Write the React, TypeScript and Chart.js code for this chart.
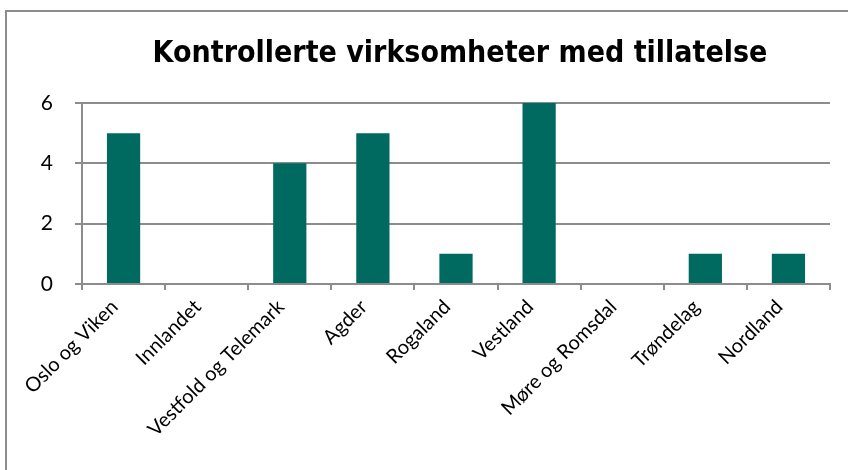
import React, { useEffect, useRef } from "react";
import { Chart, registerables } from "chart.js";

Chart.register(...registerables);

const TITLE = "Kontrollerte virksomheter med tillatelse";
const categories = [
  "Oslo og Viken",
  "Innlandet",
  "Vestfold og Telemark",
  "Agder",
  "Rogaland",
  "Vestland",
  "Møre og Romsdal",
  "Trøndelag",
  "Nordland",
];
const values = [5, 0, 4, 5, 1, 6, 0, 1, 1];
const yTicks = [0, 2, 4, 6];

const GRID = "#8c8c8c";
const BAR = "#006960";
const LABEL_FONT = "Lato, serif";

const titlePlugin = {
  id: "customTitle",
  afterDraw(chart: any) {
    const { ctx, chartArea } = chart;
    ctx.save();
    ctx.font = "bold 30px 'DejaVu Sans Condensed', sans-serif";
    ctx.fillStyle = "#000";
    ctx.textAlign = "center";
    ctx.textBaseline = "alphabetic";
    ctx.fillText(TITLE, (chartArea.left + chartArea.right) / 2 + 4, 62);
    ctx.restore();
  },
};

export default function App() {
  const ref = useRef<HTMLCanvasElement | null>(null);
  useEffect(() => {
    if (!ref.current) return;
    const chart = new Chart(ref.current, {
      type: "bar",
      data: {
        labels: categories,
        datasets: [
          {
            data: values,
            backgroundColor: BAR,
            borderWidth: 0,
            barPercentage: 0.4,
            categoryPercentage: 1,
          },
        ],
      },
      options: {
        responsive: false,
        animation: false,
        layout: { padding: { top: 103, right: 18, left: 0, bottom: 0 } },
        plugins: {
          legend: { display: false },
          title: { display: false },
          tooltip: { enabled: false },
        },
        scales: {
          x: {
            grid: {
              offset: true,
              drawOnChartArea: false,
              drawTicks: true,
              tickLength: 6,
              color: GRID,
              lineWidth: 2,
            },
            border: { display: true, color: GRID, width: 2 },
            ticks: {
              color: "#000",
              font: { family: LABEL_FONT, size: 20 },
              maxRotation: 45,
              minRotation: 45,
              padding: 5,
              labelOffset: -9,
              autoSkip: false,
            },
            afterFit: (s: any) => {
              s.height = 470 - 284;
            },
          },
          y: {
            min: 0,
            max: 6,
            afterBuildTicks: (s: any) => {
              s.ticks = yTicks.map((v) => ({ value: v }));
            },
            grid: {
              color: GRID,
              lineWidth: 2,
              drawTicks: true,
              tickLength: 7,
            },
            border: { display: true, color: GRID, width: 2 },
            ticks: {
              color: "#000",
              font: { family: LABEL_FONT, size: 21 },
              padding: 22,
            },
            afterFit: (s: any) => {
              s.width = 82;
            },
          },
        },
      },
      plugins: [titlePlugin],
    });
    return () => chart.destroy();
  }, []);

  return (
    <div style={{ position: "fixed", left: 0, top: 0, width: 848, height: 470, background: "#fff", overflow: "hidden" }}>
      <div
        style={{
          position: "absolute",
          left: 5,
          top: 10,
          width: 900,
          height: 520,
          border: "2px solid #8c8c8c",
          boxSizing: "border-box",
        }}
      />
      <canvas ref={ref} width={848} height={470} style={{ position: "absolute", left: 0, top: 0 }} />
    </div>
  );
}
